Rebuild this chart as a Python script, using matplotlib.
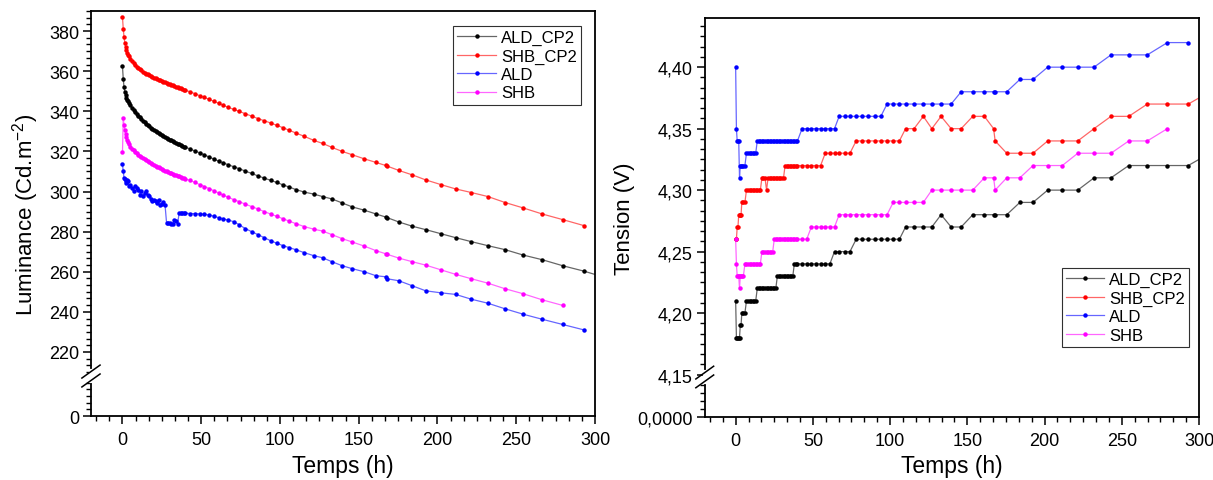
import numpy as np
import matplotlib
matplotlib.use("Agg")
import matplotlib.pyplot as plt
from matplotlib.colors import to_rgba
from matplotlib.lines import Line2D

plt.rcParams['font.family'] = ['Liberation Sans', 'DejaVu Sans']
plt.rcParams['mathtext.default'] = 'regular'

# measurement times (h), shared by all series
t = [0, 0.5, 1, 1.5, 2, 2.5, 3, 3.5, 4,
     5, 6, 7, 8, 9, 10, 11, 12, 13, 14, 15, 16, 17, 18, 19, 20,
     21, 22, 23, 24, 25, 26, 27, 28, 29, 30, 31, 32, 33, 34, 35, 36, 37, 38, 39, 40,
     43, 46, 49, 52, 55, 58, 61, 64, 67,
     70.5, 74, 78, 82, 86, 90, 94, 98, 102, 106,
     110, 115.5, 121.5, 127, 133, 139.5, 146, 153.5, 161, 167, 168, 175.5,
     184, 192.5, 202, 211.5, 221.5, 232, 243, 254.5, 266.5, 279.5, 293, 307]

# luminance (Cd.m-2)
lum_ald_cp2 = [362.5, 356, 352, 349.5, 348, 346.8, 345.8, 345, 344.2,
               343, 341.8, 340.8, 339.8, 338.8, 337.9, 337, 336.2, 335.4, 334.6, 333.9, 333.2, 332.5, 331.9, 331.3, 330.7,
               330.1, 329.6, 329.1, 328.6, 328.1, 327.6, 327.1, 326.7, 326.3, 325.9, 325.5, 325.1, 324.7, 324.3, 323.9,
               323.5, 323.1, 322.8, 322.4, 322.1,
               321.2, 320.2, 319.3, 318.3, 317.2, 316.2, 315.2, 314.3, 313.4,
               312.4, 311.4, 310.2, 309, 307.8, 306.7, 305.6, 304.5, 303.3, 302.2,
               301, 299.7, 298.7, 297.5, 296.3, 294.3, 292.3, 290.7, 288.8, 287.3, 287, 284.8,
               282.7, 281, 279, 277, 275, 273, 271, 268.3, 266, 263, 260.3, 257]
lum_shb_cp2 = [387, 381, 377, 374, 372, 370.5, 369.2, 368.2, 367.4,
               366, 365, 364, 363.1, 362.3, 361.6, 361, 360.4, 359.8, 359.3, 358.8, 358.4, 358, 357.6, 357.2, 356.8,
               356.4, 356, 355.7, 355.4, 355, 354.7, 354.4, 354.1, 353.8, 353.5, 353.2, 352.9, 352.6, 352.3, 352,
               351.7, 351.4, 351.1, 350.8, 350.5,
               349.7, 348.8, 347.8, 346.9, 346, 345, 344, 343, 342,
               341, 340, 338.8, 337.6, 336.4, 335.3, 334.2, 333, 331.8, 330.5,
               329.2, 327.5, 325.5, 324, 322, 320, 318.3, 316.3, 314.5, 313, 312.7, 310.5,
               308.3, 305.8, 303.5, 301.3, 299.5, 297.5, 294.5, 291.8, 288.8, 286, 283]
lum_ald = [313.5, 310, 306.8, 306, 305, 304.3, 305.5, 305.2, 302.7,
           303.5, 301.8, 300.2, 302.7, 301.8, 301, 298.5, 300.2, 297.7, 299.3, 300.2, 298.5, 297.7, 296.5, 295.2, 295.8,
           295.2, 294.3, 295.7, 293.5, 294, 294.7, 293.5, 284.3, 284.2, 284.1, 284, 284, 286, 285.5, 284,
           289.3, 289.3, 289.3, 289.3, 289.2,
           289, 289, 288.8, 288.6, 288.3, 287.7, 287, 286.3, 285.8,
           285, 283.5, 281.5, 280, 278.5, 277, 275.5, 274.2, 273, 272,
           271, 269.5, 268, 267, 265, 263, 261.5, 260, 258, 257.5, 256.5, 255.5,
           253, 250.5, 249.5, 248.7, 246.3, 244.3, 241.5, 238.8, 236.3, 233.7, 231]
lum_shb = [319.5, 336.5, 333, 330.5, 328.5, 327, 325.5, 324.5, 323.5,
           322.3, 321.3, 320.5, 319.7, 319, 318.3, 317.7, 317.1, 316.5, 316, 315.5, 315, 314.5, 314, 313.6, 313.2,
           312.8, 312.4, 312, 311.6, 311.2, 310.8, 310.4, 310, 309.6, 309.3, 309, 308.7, 308.4, 308.1, 307.8,
           307.5, 307.2, 306.9, 306.6, 306.3,
           305.5, 304.5, 303.5, 302.5, 301.5, 300.4, 299.3, 298.2, 297.2,
           296, 295, 293.7, 292.5, 291.3, 290, 288.8, 287.6, 286.4, 285.2,
           284, 282.5, 281.2, 280.3, 278.5, 276.5, 274.8, 272.8, 270.5, 269, 268.7, 266.8,
           265, 263.3, 261, 258.7, 256.5, 254.3, 251.5, 249, 246, 243.2]

# tension (V)
v_ald_cp2 = [4.21, 4.18, 4.18, 4.18, 4.18, 4.18, 4.19, 4.19, 4.20,
             4.20, 4.20, 4.21, 4.21, 4.21, 4.21, 4.21, 4.21, 4.21, 4.22, 4.22, 4.22, 4.22, 4.22, 4.22, 4.22,
             4.22, 4.22, 4.22, 4.22, 4.22, 4.22, 4.23, 4.23, 4.23, 4.23, 4.23, 4.23, 4.23, 4.23, 4.23,
             4.23, 4.23, 4.24, 4.24, 4.24,
             4.24, 4.24, 4.24, 4.24, 4.24, 4.24, 4.24, 4.25, 4.25,
             4.25, 4.25, 4.26, 4.26, 4.26, 4.26, 4.26, 4.26, 4.26, 4.26,
             4.27, 4.27, 4.27, 4.27, 4.28, 4.27, 4.27, 4.28, 4.28, 4.28, 4.28, 4.28,
             4.29, 4.29, 4.30, 4.30, 4.30, 4.31, 4.31, 4.32, 4.32, 4.32, 4.32, 4.33]
v_shb_cp2 = [4.26, 4.26, 4.27, 4.27, 4.28, 4.28, 4.28, 4.28, 4.29,
             4.29, 4.29, 4.30, 4.30, 4.30, 4.30, 4.30, 4.30, 4.30, 4.30, 4.30, 4.30, 4.31, 4.31, 4.31, 4.30,
             4.31, 4.31, 4.31, 4.31, 4.31, 4.31, 4.31, 4.31, 4.31, 4.31, 4.31, 4.32, 4.32, 4.32, 4.32,
             4.32, 4.32, 4.32, 4.32, 4.32,
             4.32, 4.32, 4.32, 4.32, 4.32, 4.33, 4.33, 4.33, 4.33,
             4.33, 4.33, 4.34, 4.34, 4.34, 4.34, 4.34, 4.34, 4.34, 4.34,
             4.35, 4.35, 4.36, 4.35, 4.36, 4.35, 4.35, 4.36, 4.36, 4.35, 4.34, 4.33,
             4.33, 4.33, 4.34, 4.34, 4.34, 4.35, 4.36, 4.36, 4.37, 4.37, 4.37, 4.38]
v_ald = [4.40, 4.35, 4.34, 4.34, 4.34, 4.31, 4.32, 4.32, 4.32,
         4.32, 4.32, 4.33, 4.33, 4.33, 4.33, 4.33, 4.33, 4.33, 4.34, 4.34, 4.34, 4.34, 4.34, 4.34, 4.34,
         4.34, 4.34, 4.34, 4.34, 4.34, 4.34, 4.34, 4.34, 4.34, 4.34, 4.34, 4.34, 4.34, 4.34, 4.34,
         4.34, 4.34, 4.34, 4.34, 4.34,
         4.35, 4.35, 4.35, 4.35, 4.35, 4.35, 4.35, 4.35, 4.36,
         4.36, 4.36, 4.36, 4.36, 4.36, 4.36, 4.36, 4.37, 4.37, 4.37,
         4.37, 4.37, 4.37, 4.37, 4.37, 4.37, 4.38, 4.38, 4.38, 4.38, 4.38, 4.38,
         4.39, 4.39, 4.40, 4.40, 4.40, 4.40, 4.41, 4.41, 4.41, 4.42, 4.42]
v_shb = [4.26, 4.24, 4.23, 4.23, 4.23, 4.22, 4.23, 4.23, 4.23,
         4.23, 4.24, 4.24, 4.24, 4.24, 4.24, 4.24, 4.24, 4.24, 4.24, 4.24, 4.24, 4.25, 4.25, 4.25, 4.25,
         4.25, 4.25, 4.25, 4.25, 4.26, 4.26, 4.26, 4.26, 4.26, 4.26, 4.26, 4.26, 4.26, 4.26, 4.26,
         4.26, 4.26, 4.26, 4.26, 4.26,
         4.26, 4.26, 4.27, 4.27, 4.27, 4.27, 4.27, 4.27, 4.28,
         4.28, 4.28, 4.28, 4.28, 4.28, 4.28, 4.28, 4.28, 4.29, 4.29,
         4.29, 4.29, 4.29, 4.30, 4.30, 4.30, 4.30, 4.30, 4.31, 4.31, 4.30, 4.31,
         4.31, 4.32, 4.32, 4.32, 4.33, 4.33, 4.33, 4.34, 4.34, 4.35]

labels = ['ALD_CP2', 'SHB_CP2', 'ALD', 'SHB']
colors = ['black', 'red', 'blue', 'magenta']


def broken_scale(a, b, top, f, eps=1e-6):
    # lower part [0, a] -> [0, f], upper part [b, top] -> [f, 1]
    k_lo = f / a
    k_hi = (1 - f - eps) / (top - b)

    def fwd(y):
        y = np.asarray(y, dtype=float)
        return np.where(y <= a, y * k_lo,
                        np.where(y >= b, f + eps + (y - b) * k_hi,
                                 f + (y - a) / (b - a) * eps))

    def inv(z):
        z = np.asarray(z, dtype=float)
        return np.where(z <= f, z / k_lo,
                        np.where(z >= f + eps, b + (z - f - eps) / k_hi,
                                 a + (z - f) / eps * (b - a)))
    return fwd, inv


def draw_break(ax, f):
    ax.add_line(Line2D([0, 0], [f - 0.012, f + 0.012], transform=ax.transAxes,
                       color='white', lw=3, clip_on=False, zorder=5))
    for dy in (-0.011, 0.011):
        ax.add_line(Line2D([-0.018, 0.018], [f + dy - 0.016, f + dy + 0.016],
                           transform=ax.transAxes, color='black', lw=1.1,
                           clip_on=False, zorder=6))


def style(ax):
    for s in ax.spines.values():
        s.set_linewidth(1.3)
    ax.tick_params(which='major', direction='out', length=6, width=1.1,
                   labelsize=13, pad=2.5)
    ax.tick_params(which='minor', direction='out', length=3.5, width=1)
    ax.tick_params(axis='x', which='major', pad=5)
    ax.set_xlim(-20, 300)
    ax.set_xticks([0, 50, 100, 150, 200, 250, 300])
    ax.set_xticks([m + k * 50 / 6 for m in range(-50, 300, 50) for k in range(1, 6)
                   if -20 <= m + k * 50 / 6 <= 300], minor=True)
    ax.set_xlabel('Temps (h)', fontsize=16.5)


fig = plt.figure(figsize=(12.13, 4.81), dpi=100)
ax1 = fig.add_axes([0.075, 0.133, 0.4155, 0.842])
ax2 = fig.add_axes([0.581, 0.131, 0.4075, 0.8295])

lum = [lum_ald_cp2, lum_shb_cp2, lum_ald, lum_shb]
volt = [v_ald_cp2, v_shb_cp2, v_ald, v_shb]

for ax, data in ((ax1, lum), (ax2, volt)):
    for y, c, lab in zip(data, colors, labels):
        ax.plot(t[:len(y)], y, color=to_rgba(c, 0.6), lw=0.9, marker='o', ms=2.2,
                mfc=c, mec=c, label=lab)

# left: luminance with broken axis
f1 = 40 / 405
fwd, inv = broken_scale(20, 208, 390, f1)
ax1.set_yscale('function', functions=(fwd, inv))
ax1.set_ylim(0, 390)
ax1.set_yticks([0, 220, 240, 260, 280, 300, 320, 340, 360, 380])
ax1.set_yticklabels(['0', '220', '240', '260', '280', '300', '320', '340', '360', '380'])
ax1.set_yticks([k * 20 / 6 for k in range(1, 6)] +
               [m + k * 20 / 6 for m in range(200, 400, 20) for k in range(0, 6)
                if 209 <= m + k * 20 / 6 <= 390 and k != 0], minor=True)
style(ax1)
ax1.set_ylabel('Luminance (Cd.m$^{-2}$)', fontsize=16)
ax1.yaxis.set_label_coords(-0.1, 0.5)
ax1.xaxis.set_label_coords(0.5, -0.093)
draw_break(ax1, f1)
leg1 = ax1.legend(loc='upper right', bbox_to_anchor=(0.972, 0.963), fontsize=12,
                  fancybox=False, framealpha=1, edgecolor='#303030', borderpad=0.25,
                  labelspacing=0.2, handlelength=2.3, handletextpad=0.3, borderaxespad=0)
leg1.get_frame().set_linewidth(0.8)

# right: tension with broken axis
f2 = 40 / 399
fwd2, inv2 = broken_scale(0.03, 4.148, 4.44, f2)
ax2.set_yscale('function', functions=(fwd2, inv2))
ax2.set_ylim(0, 4.44)
vt = [4.15, 4.20, 4.25, 4.30, 4.35, 4.40]
ax2.set_yticks([0] + vt)
ax2.set_yticklabels(['0,0000'] + [f'{v:.2f}'.replace('.', ',') for v in vt])
ax2.set_yticks([0.006, 0.012, 0.018, 0.024] +
               [v + k * 0.05 / 6 for v in [4.10] + vt for k in range(1, 6)
                if 4.15 < v + k * 0.05 / 6 < 4.44], minor=True)
style(ax2)
ax2.set_ylabel('Tension (V)', fontsize=16)
ax2.yaxis.set_label_coords(-0.142, 0.5)
ax2.xaxis.set_label_coords(0.5, -0.093)
draw_break(ax2, f2)
leg2 = ax2.legend(loc='upper right', bbox_to_anchor=(0.98, 0.373), fontsize=12,
                  fancybox=False, framealpha=1, edgecolor='#303030', borderpad=0.25,
                  labelspacing=0.2, handlelength=2.3, handletextpad=0.3, borderaxespad=0)
leg2.get_frame().set_linewidth(0.8)

fig.savefig('out.png', dpi=100)
